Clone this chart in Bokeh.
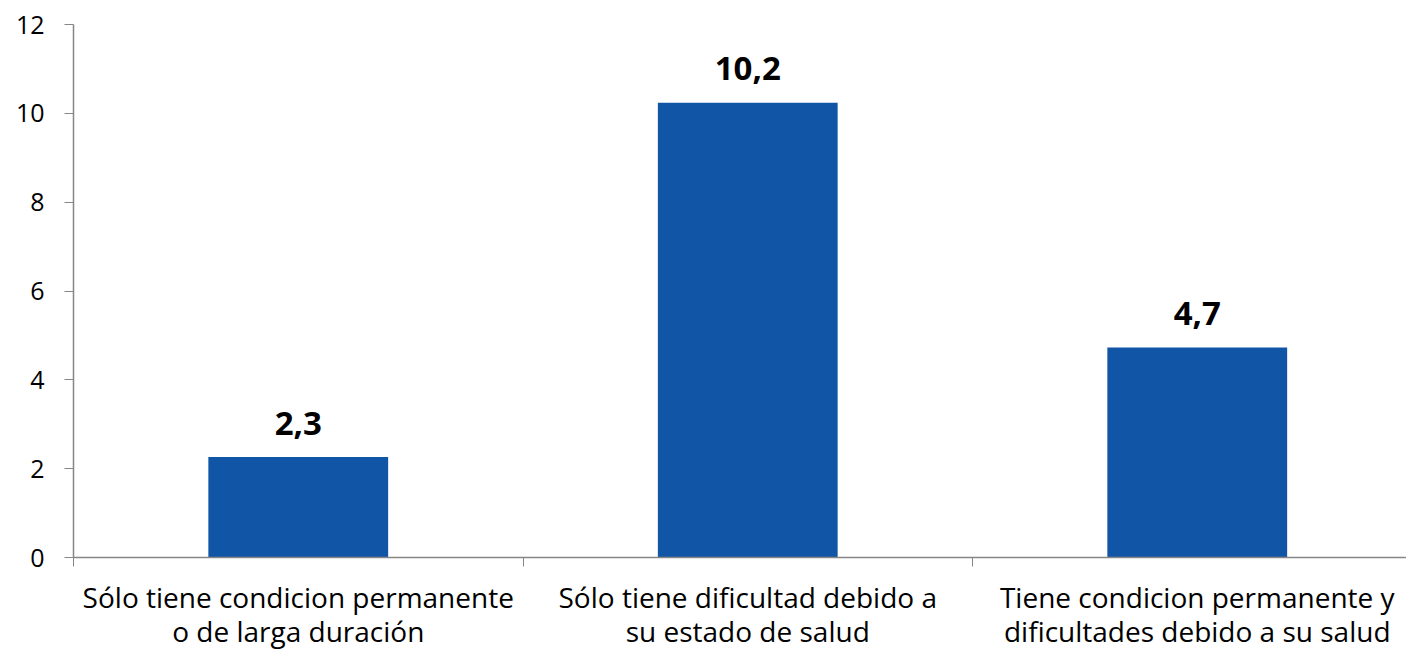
from bokeh.plotting import figure
from bokeh.models import Range1d, FixedTicker, ColumnDataSource
from bokeh.core.properties import value
from bokeh.embed import file_html
from bokeh.resources import INLINE

categories = [
    "Sólo tiene condicion permanente\no de larga duración",
    "Sólo tiene dificultad debido a\nsu estado de salud",
    "Tiene condicion permanente y\ndificultades debido a su salud",
]
values = [2.26, 10.24, 4.73]
y_ticks = [0, 2, 4, 6, 8, 10, 12]

FONT = "Open Sans"
W, H = 1406, 652
LEFT, TOP, BOTTOM = 73, 24, 94
frame_w = W - LEFT
cat_px = 449.5

xs = [i + 0.5 for i in range(len(categories))]
labels = [f"{v:.1f}".replace(".", ",") for v in values]
src = ColumnDataSource(dict(x=xs, top=values, label=labels))

p = figure(width=W, height=H, output_backend="svg", toolbar_location=None,
           x_range=Range1d(0, frame_w / cat_px), y_range=Range1d(0, 12),
           min_border_left=LEFT, min_border_top=TOP, min_border_bottom=BOTTOM,
           min_border_right=0)
p.outline_line_color = None
p.xgrid.visible = False
p.ygrid.visible = False
p.background_fill_color = "white"
p.border_fill_color = "white"

p.vbar(x="x", top="top", width=0.4, bottom=0, source=src,
       fill_color="#1155a6", line_color=None)
p.text(x="x", y="top", text="label", source=src, text_align="center",
       text_baseline="alphabetic", y_offset=-34, text_font=value(FONT),
       text_font_size="33px", text_font_style="bold", text_color="black")

ax = p.xaxis[0]
ax.ticker = FixedTicker(ticks=xs, minor_ticks=list(range(len(categories) + 1)))
ax.major_label_overrides = {x: c for x, c in zip(xs, categories)}
ax.major_tick_out = 0
ax.major_tick_in = 0
ax.minor_tick_out = 9
ax.minor_tick_in = 0
ax.minor_tick_line_color = "#868686"
ax.axis_line_color = "#868686"
ax.axis_line_width = 1.5
ax.major_label_text_font = FONT
ax.major_label_text_font_size = "28px"
ax.major_label_text_line_height = 0.9
ax.major_label_text_color = "black"
ax.major_label_standoff = 11

ay = p.yaxis[0]
ay.ticker = FixedTicker(ticks=y_ticks, minor_ticks=[])
ay.major_tick_out = 9
ay.major_tick_in = 0
ay.major_tick_line_color = "#868686"
ay.axis_line_color = "#868686"
ay.axis_line_width = 1.5
ay.major_label_text_font = FONT
ay.major_label_text_font_size = "25px"
ay.major_label_text_color = "black"
ay.major_label_standoff = 20

open("out.html", "w").write(file_html(p, INLINE))
